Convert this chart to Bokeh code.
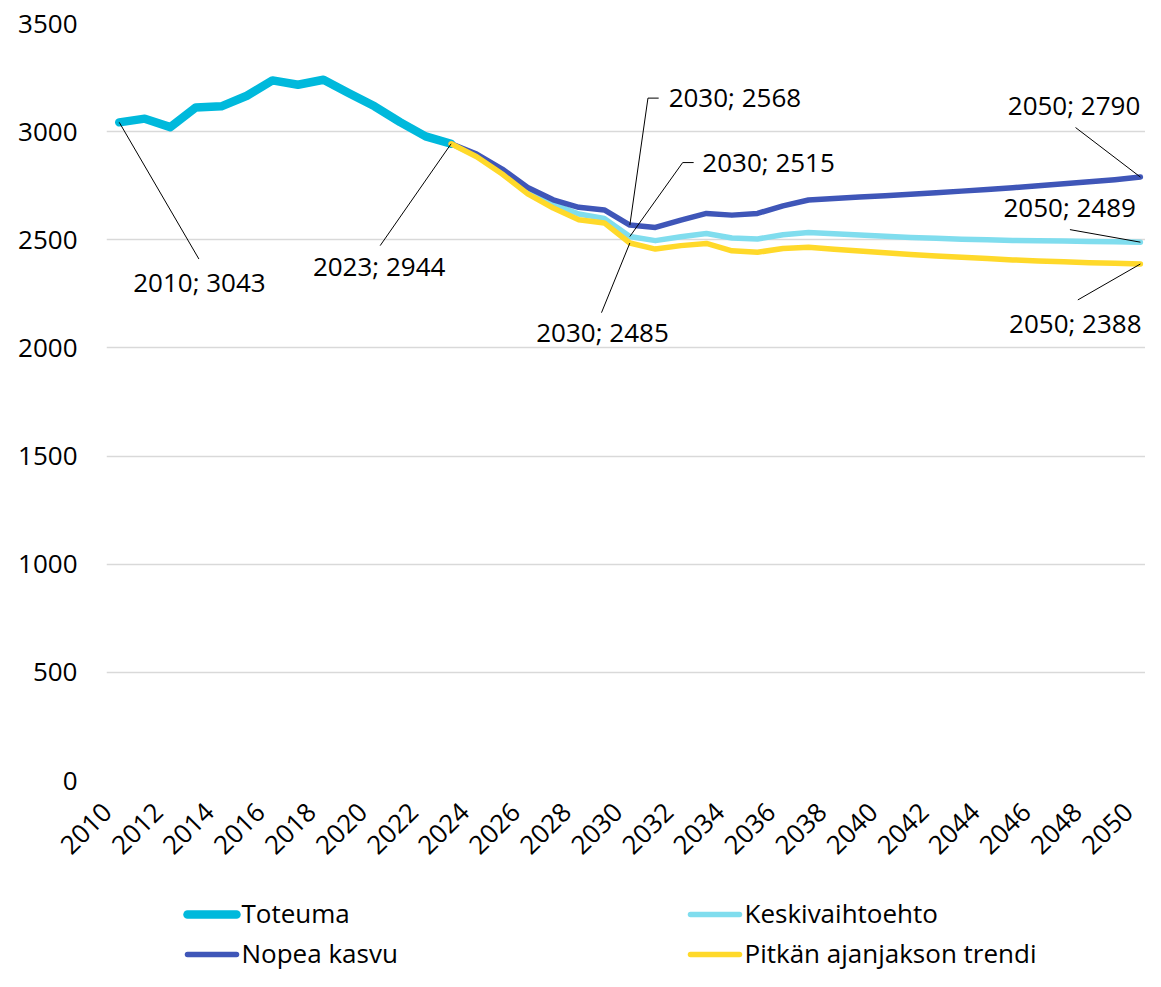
import math
from bokeh.plotting import figure
from bokeh.layouts import column
from bokeh.models import Range1d, FixedTicker, LinearAxis
from bokeh.embed import file_html
from bokeh.resources import INLINE
from bokeh.core.properties import value

# ---------------- data ----------------
years_hist = [2010, 2011, 2012, 2013, 2014, 2015, 2016, 2017, 2018, 2019, 2020, 2021, 2022, 2023]
toteuma = [3043, 3060, 3021, 3112, 3117, 3166, 3237, 3217, 3240, 3178, 3117, 3044, 2978, 2944]

years_proj = [2023, 2024, 2025, 2026, 2027, 2028, 2029, 2030, 2031, 2032, 2033, 2034, 2035, 2036,
              2037, 2038, 2039, 2040, 2041, 2042, 2043, 2044, 2045, 2046, 2047, 2048, 2049, 2050]
keskivaihtoehto = [2944, 2889, 2815, 2726, 2665, 2619, 2599, 2515, 2496, 2514, 2529, 2508, 2504, 2523,
                   2534, 2528, 2522, 2516, 2511, 2507, 2503, 2500, 2497, 2495, 2494, 2492, 2491, 2489]
nopea_kasvu = [2944, 2896, 2827, 2742, 2685, 2650, 2638, 2568, 2557, 2591, 2622, 2614, 2622, 2657,
               2684, 2691, 2698, 2704, 2711, 2718, 2725, 2733, 2741, 2750, 2759, 2768, 2778, 2790]
pitkan_trendi = [2944, 2884, 2804, 2712, 2647, 2593, 2578, 2485, 2457, 2473, 2483, 2449, 2442, 2460,
                 2465, 2456, 2448, 2440, 2432, 2425, 2419, 2413, 2407, 2402, 2398, 2394, 2391, 2388]

series_labels = ["Toteuma", "Keskivaihtoehto", "Nopea kasvu", "Pitkän ajanjakson trendi"]
x_ticks = [2010, 2012, 2014, 2016, 2018, 2020, 2022, 2024, 2026, 2028, 2030,
           2032, 2034, 2036, 2038, 2040, 2042, 2044, 2046, 2048, 2050]
y_ticks = [0, 500, 1000, 1500, 2000, 2500, 3000, 3500]

FONT = "Open Sans"
C_TOT = "#00B9DC"
C_KESKI = "#80DDEE"
C_NOPEA = "#3F56B8"
C_PITKA = "#FFD92A"
series_colors = [C_TOT, C_KESKI, C_NOPEA, C_PITKA]
series_widths = [8.5, 5.5, 5.5, 5.5]

W = 1145
H_MAIN = 880
H_LEG = 91
LEFT = 106

X0, X1 = 2009.5, 2050.2
LABEL_SHIFT = 0.47  # slanted year labels sit slightly left of their year

p = figure(width=W, height=H_MAIN, output_backend="svg", toolbar_location=None,
           x_range=Range1d(X0, X1), y_range=Range1d(0, 3500),
           x_axis_location=None,
           min_border_left=LEFT, min_border_right=0, min_border_top=23, min_border_bottom=100)
p.outline_line_color = None
p.background_fill_color = "white"
p.border_fill_color = "white"

p.xgrid.grid_line_color = None
p.ygrid.grid_line_color = "#D9D9D9"
p.ygrid.grid_line_width = 1.5
p.ygrid.ticker = FixedTicker(ticks=y_ticks)

p.extra_x_ranges = {"lab": Range1d(X0 + LABEL_SHIFT, X1 + LABEL_SHIFT)}
xax = LinearAxis(x_range_name="lab", ticker=FixedTicker(ticks=x_ticks))
p.add_layout(xax, "below")

for ax in (xax, p.yaxis[0]):
    ax.axis_line_color = None
    ax.major_tick_line_color = None
    ax.minor_tick_line_color = None
    ax.major_tick_out = 0
    ax.major_tick_in = 0
    ax.major_label_text_font = FONT
    ax.major_label_text_font_size = "26px"
    ax.major_label_text_color = "#000000"

p.yaxis.ticker = FixedTicker(ticks=y_ticks)
p.yaxis.major_label_standoff = 29
xax.major_label_orientation = math.pi / 4
xax.major_label_standoff = 27

# ---------------- series ----------------
p.line(years_hist, toteuma, line_color=C_TOT, line_width=8.5, line_cap="round", line_join="round")
p.line(years_proj, keskivaihtoehto, line_color=C_KESKI, line_width=5.5, line_cap="round", line_join="round")
p.line(years_proj, nopea_kasvu, line_color=C_NOPEA, line_width=5.5, line_cap="round", line_join="round")
p.line(years_proj, pitkan_trendi, line_color=C_PITKA, line_width=5.5, line_cap="round", line_join="round")

# ---------------- data labels with leader lines ----------------
i30 = years_proj.index(2030)
lead_xs = [
    [years_hist[0], 2013.12],
    [years_hist[-1], 2020.22],
    [2030, 2030.71, 2031.13],
    [2030, 2032.07, 2032.50],
    [2030, 2028.89],
    [2050, 2047.46],
    [2050, 2047.24],
    [2050, 2047.55],
]
lead_ys = [
    [toteuma[0], 2411],
    [toteuma[-1], 2473],
    [nopea_kasvu[i30], 3155, 3155],
    [keskivaihtoehto[i30], 2857, 2857],
    [pitkan_trendi[i30], 2163],
    [nopea_kasvu[-1], 3019],
    [keskivaihtoehto[-1], 2547],
    [pitkan_trendi[-1], 2222],
]
p.multi_line(lead_xs, lead_ys, line_color="black", line_width=1)

def lab(y, v):
    return f"{y}; {v}"

center_x = [2013.14, 2020.18, 2028.93, 2047.40, 2047.23, 2047.45]
center_y = [2306, 2379, 2074, 3122, 2650, 2116]
center_t = [lab(2010, toteuma[0]), lab(2023, toteuma[-1]), lab(2030, pitkan_trendi[i30]),
            lab(2050, nopea_kasvu[-1]), lab(2050, keskivaihtoehto[-1]), lab(2050, pitkan_trendi[-1])]
p.text(center_x, center_y, text=center_t, text_font=value(FONT), text_font_size="26px",
       text_align="center", text_baseline="alphabetic", text_color="black")

left_x = [2031.52, 2032.84]
left_y = [3159, 2859]
left_t = [lab(2030, nopea_kasvu[i30]), lab(2030, keskivaihtoehto[i30])]
p.text(left_x, left_y, text=left_t, text_font=value(FONT), text_font_size="26px",
       text_align="left", text_baseline="alphabetic", text_color="black")

# ---------------- legend (own strip below the chart, pixel-like coordinates) ----------------
q = figure(width=W, height=H_LEG, output_backend="svg", toolbar_location=None,
           x_range=Range1d(LEFT, W), y_range=Range1d(H_LEG, 0),
           x_axis_location=None, y_axis_location=None,
           min_border_left=LEFT, min_border_right=0, min_border_top=0, min_border_bottom=0)
q.outline_line_color = None
q.xgrid.grid_line_color = None
q.ygrid.grid_line_color = None
q.background_fill_color = "white"
q.border_fill_color = "white"

leg_col_x = [187, 690, 187, 690]   # start of each legend swatch
leg_row_y = [34, 34, 74, 74]       # centre of each legend row
swatch_len = 49
for i, name in enumerate(series_labels):
    x0 = leg_col_x[i]
    yc = leg_row_y[i]
    q.line([x0, x0 + swatch_len], [yc, yc], line_color=series_colors[i],
           line_width=series_widths[i], line_cap="round")
    q.text([x0 + swatch_len + 5], [yc - 1.5], text=[name], text_font=value(FONT),
           text_font_size="26px", text_align="left", text_baseline="alphabetic",
           text_color="black")

layout = column(p, q, spacing=0)
open("out.html", "w").write(file_html(layout, INLINE))
